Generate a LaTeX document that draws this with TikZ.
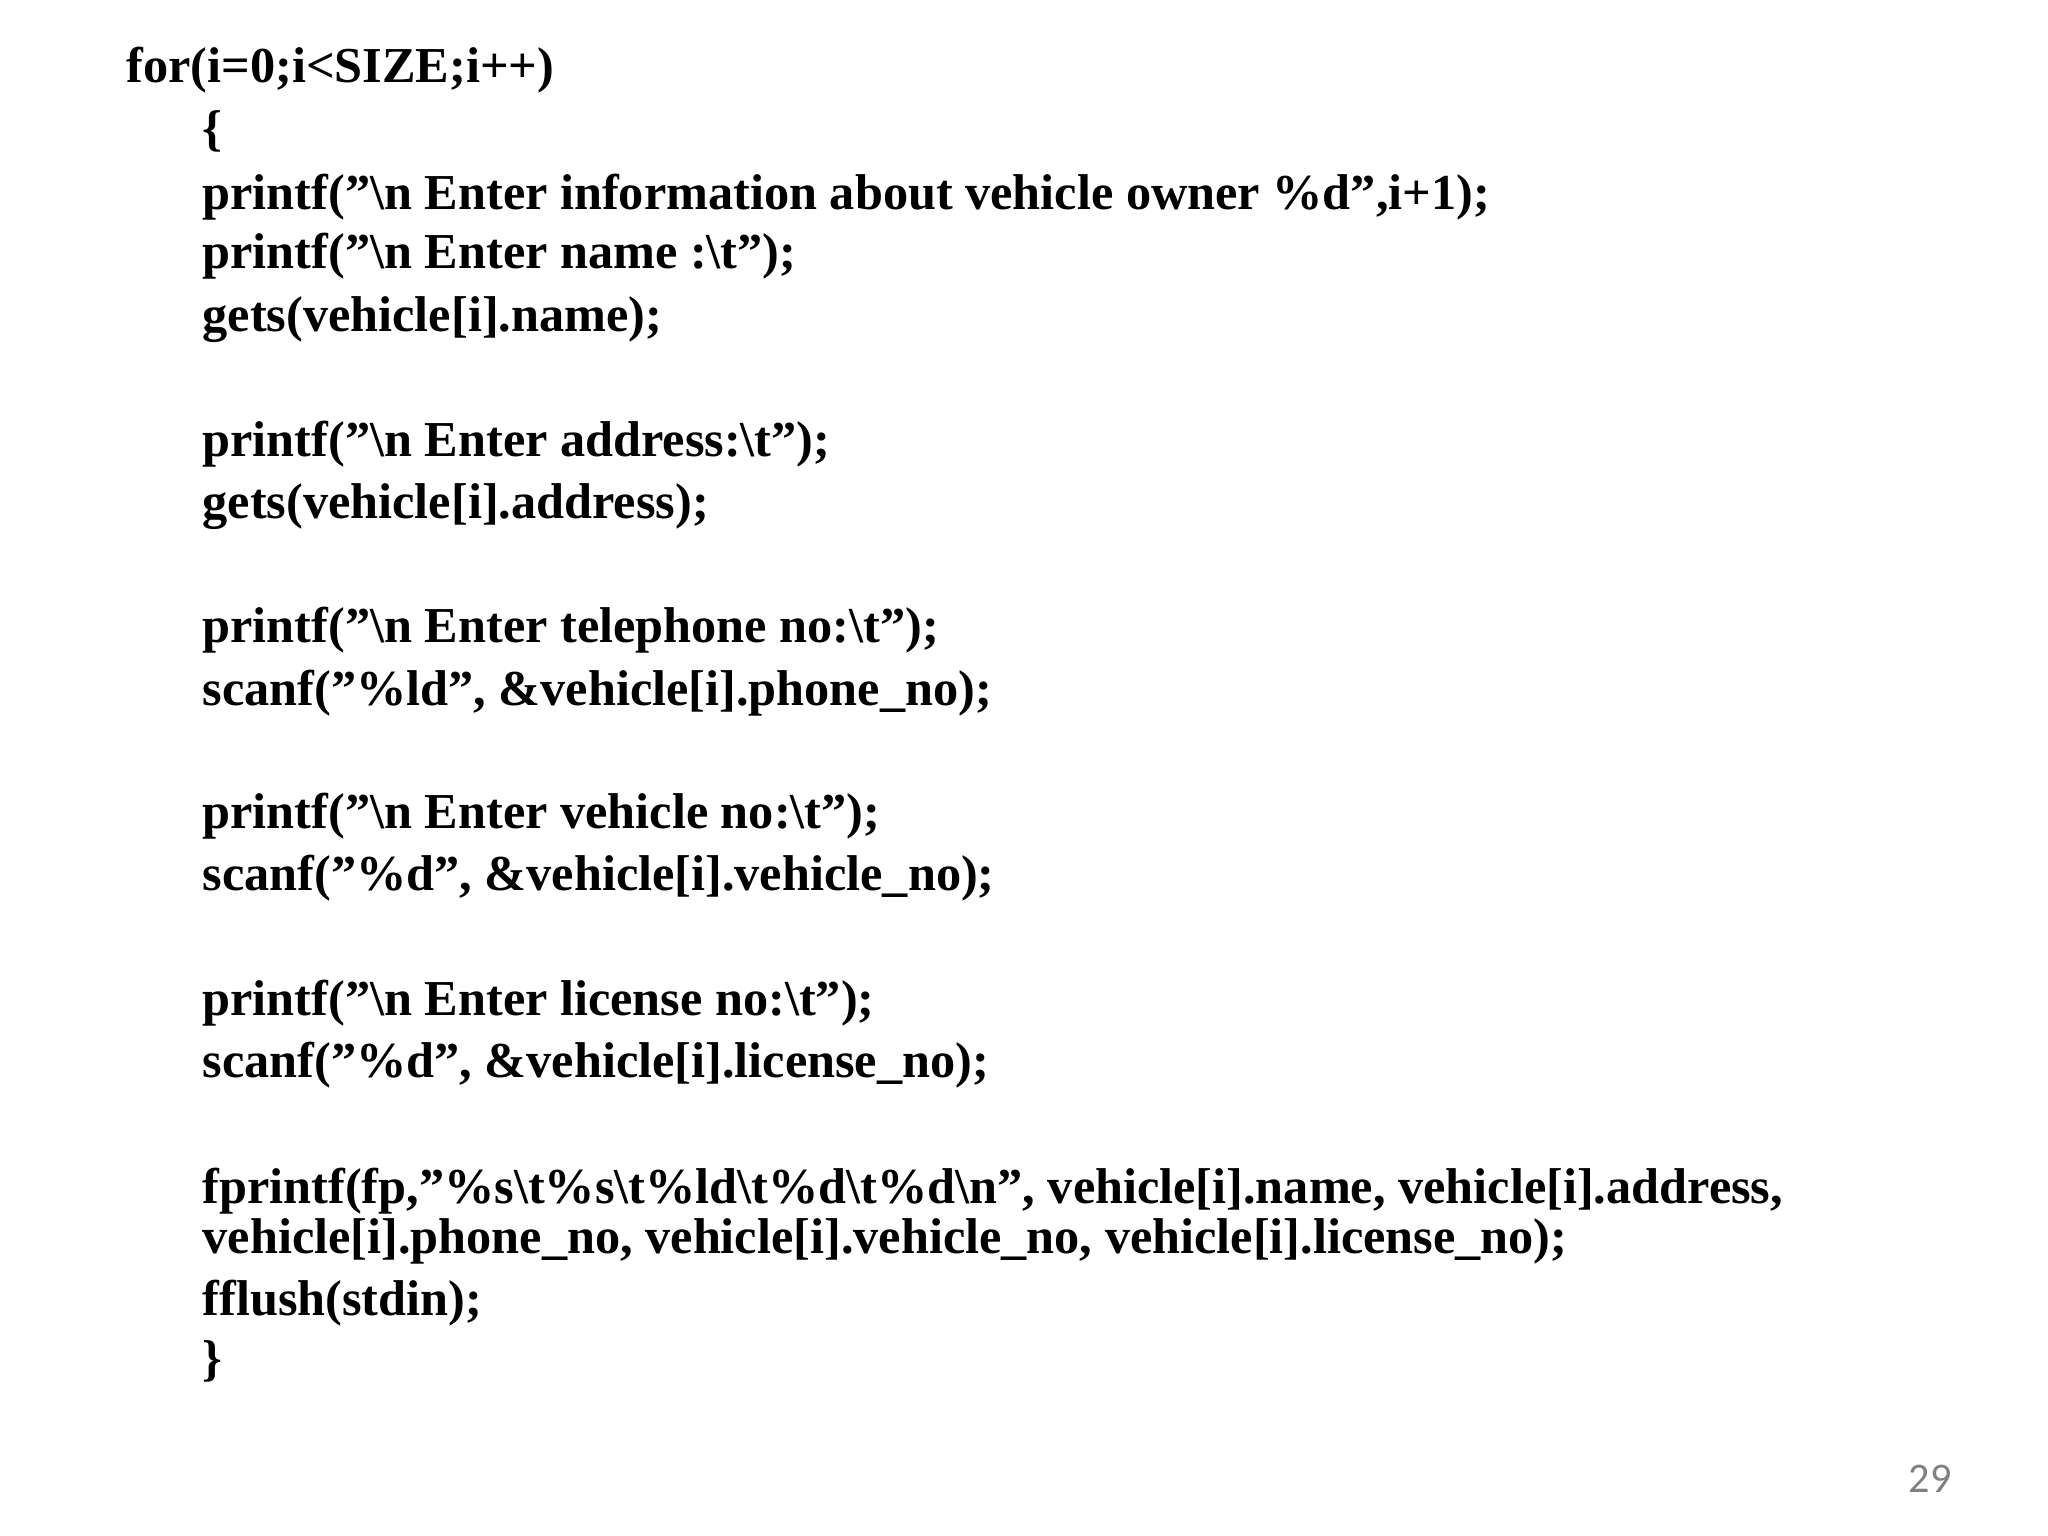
\documentclass[tikz,border=0pt]{standalone}
\usepackage{fontspec}
\setmainfont{Liberation Serif}
\newfontfamily\numfont{Carlito}
\begin{document}
\begin{tikzpicture}[x=0.01cm,y=-0.01cm,
  code/.style={anchor=base west,inner sep=0pt,font=\fontsize{14.3pt}{16pt}\selectfont\bfseries}]
\useasboundingbox (0,0) rectangle (2048,1536);
\node[code] (l0) at (126,82) {for(i=0;i<SIZE;i++)};
\node[code] (l1) at (202,145) {\{};
\node[code] (l2) at (202,209) {printf("\textbackslash n Enter information about vehicle owner \%d",i+1);};
\node[code] (l3) at (202,268) {printf("\textbackslash n Enter name :\textbackslash t");};
\node[code] (l4) at (202,331) {gets(vehicle[i].name);};
\node[code] (l5) at (202,456) {printf("\textbackslash n Enter address:\textbackslash t");};
\node[code] (l6) at (202,518) {gets(vehicle[i].address);};
\node[code] (l7) at (202,642) {printf("\textbackslash n Enter telephone no:\textbackslash t");};
\node[code] (l8) at (202,705) {scanf("\%ld", \&vehicle[i].phone\_no);};
\node[code] (l9) at (202,828) {printf("\textbackslash n Enter vehicle no:\textbackslash t");};
\node[code] (l10) at (202,890) {scanf("\%d", \&vehicle[i].vehicle\_no);};
\node[code] (l11) at (202,1015) {printf("\textbackslash n Enter license no:\textbackslash t");};
\node[code] (l12) at (202,1077) {scanf("\%d", \&vehicle[i].license\_no);};
\node[code] (l13) at (202,1203) {fprintf(fp,"\%s\textbackslash t\%s\textbackslash t\%ld\textbackslash t\%d\textbackslash t\%d\textbackslash n", vehicle[i].name, vehicle[i].address,};
\node[code] (l14) at (202,1253) {vehicle[i].phone\_no, vehicle[i].vehicle\_no, vehicle[i].license\_no);};
\node[code] (l15) at (202,1315) {fflush(stdin);};
\node[code] (l16) at (202,1375) {\}};
\node[anchor=base,inner sep=0pt,text=gray,font=\numfont\fontsize{12pt}{14pt}\selectfont] (pg) at (1930,1492) {29};
\end{tikzpicture}
\end{document}
